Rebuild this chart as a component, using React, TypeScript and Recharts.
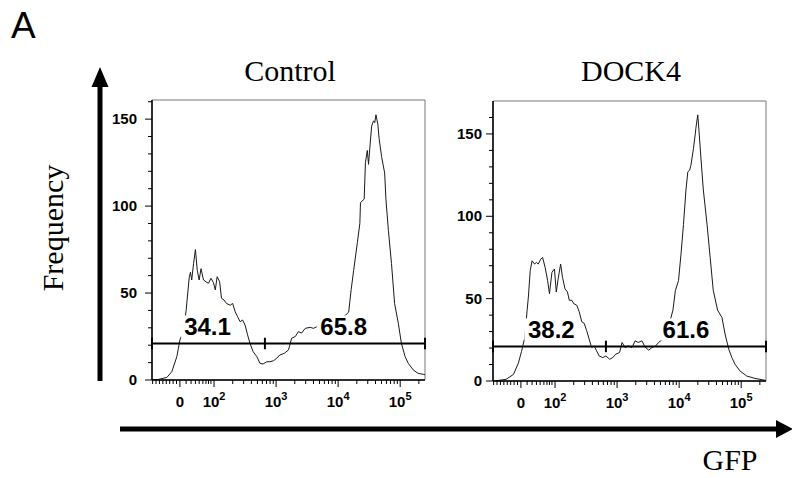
import { LineChart, Line, XAxis, YAxis, ReferenceLine, ReferenceDot, ReferenceArea } from 'recharts';

// ── Data (x in display units: 10^k sits at k, "0" sits at 1.45) ──
const CONTROL_POS = [
  1.0, 1.1, 1.24, 1.32, 1.4, 1.45, 1.51, 1.55, 1.6, 1.62, 1.64, 1.67, 1.7, 1.73, 1.76, 1.79, 1.83, 1.87, 1.91, 1.95,
  1.99, 2.02, 2.05, 2.09, 2.12, 2.16, 2.2, 2.26, 2.3, 2.34, 2.38, 2.42, 2.46, 2.5, 2.54, 2.58, 2.63, 2.69, 2.74, 2.79,
  2.85, 2.9, 2.96, 3.01, 3.06, 3.13, 3.2, 3.25, 3.31, 3.36, 3.41, 3.47, 3.55, 3.6, 3.66, 3.8, 3.95, 4.08, 4.17, 4.21,
  4.25, 4.31, 4.35, 4.36, 4.42, 4.44, 4.47, 4.49, 4.51, 4.54, 4.57, 4.59, 4.61, 4.64, 4.66, 4.7, 4.75, 4.77, 4.81, 4.86,
  4.91, 4.97, 5.02, 5.08, 5.13, 5.21, 5.29, 5.37, 5.4,
];
const CONTROL_COUNT = [
  0, 0.3, 1.5, 4.8, 13.4, 23, 29, 40, 59, 62, 57.5, 67, 75, 63, 57.5, 64, 57.5, 56.5, 55.6, 58.5,
  56, 51.8, 59.4, 56.5, 47, 46, 44, 43, 44, 39.3, 36.4, 33.5, 34.5, 31.6, 26, 21, 16.3, 13.4, 9.6, 9.2,
  10.5, 10.5, 11.1, 12.5, 14.4, 15.3, 17.3, 24, 25, 27.8, 27, 29.7, 30.3, 29.7, 30.7, 31, 33, 36, 39, 52,
  63, 79, 90, 102, 104, 125, 132, 124, 133, 146, 149, 148, 152.5, 147, 139, 128.5, 119, 104, 86, 67,
  44, 32.6, 21, 13.4, 9.6, 5.8, 3.8, 3.3, 3,
];

const DOCK4_POS = [
  1.02, 1.21, 1.33, 1.41, 1.46, 1.51, 1.55, 1.57, 1.6, 1.63, 1.67, 1.7, 1.73, 1.77, 1.8, 1.84, 1.88, 1.91, 1.95, 1.99,
  2.02, 2.05, 2.09, 2.12, 2.16, 2.2, 2.23, 2.27, 2.3, 2.35, 2.39, 2.43, 2.47, 2.51, 2.55, 2.59, 2.63, 2.67, 2.71, 2.77,
  2.82, 2.88, 2.93, 2.98, 3.04, 3.08, 3.13, 3.18, 3.24, 3.29, 3.34, 3.4, 3.45, 3.51, 3.56, 3.62, 3.67, 3.75, 3.83, 3.9,
  3.94, 3.99, 4.03, 4.07, 4.11, 4.14, 4.17, 4.19, 4.23, 4.26, 4.27, 4.3, 4.32, 4.35, 4.39, 4.45, 4.5, 4.55, 4.62, 4.69,
  4.74, 4.8, 4.85, 4.9, 4.98, 5.09, 5.22, 5.39,
];
const DOCK4_COUNT = [
  0, 1, 4, 11, 18, 26, 43, 51, 67, 73, 71, 72, 71, 74, 75, 69, 61, 53, 66, 68,
  54, 62, 71, 63, 56, 54, 49, 49, 47, 46, 42, 36, 35, 30.5, 25.4, 20.3, 21.3, 18.3, 15.2, 14.2,
  15.2, 13.2, 14.2, 16.3, 17.3, 23.4, 20.3, 21.3, 20.3, 24.4, 23.4, 24.4, 20.7, 18.7, 20.3, 21.3, 23.4, 26, 33, 43,
  55, 61, 77, 95, 116, 127, 128, 131, 141, 150, 153.5, 161.6, 152, 136, 116, 95, 75, 55, 43, 38.6,
  28.5, 19.3, 14.2, 10.2, 6.1, 3, 1.6, 0.4,
];

// gates: [left edge, split, right edge], level in counts
const GATE_EDGES = [1, 2.82, 5.4];
const GATE_LEVEL = 21;
const CONTROL_GATE_PCT = ['34.1', '65.8'];
const DOCK4_GATE_PCT = ['38.2', '61.6'];
const CONTROL_PCT_POS = [1.895, 4.09];
const DOCK4_PCT_POS = [1.94, 4.11];

// axes
const X_DOMAIN = [1, 5.4];
const MAJOR_X = [1.45, 2, 3, 4, 5];
const X_BASE = ['0', '10', '10', '10', '10'];
const X_EXP = ['', '2', '3', '4', '5'];
const MINOR_LOW = [1.01, 1.065, 1.12, 1.175, 1.23, 1.285, 1.34, 1.395, 1.55, 1.63, 1.7, 1.76, 1.82, 1.87, 1.91, 1.95];
const MINOR_LOG: number[] = [];
[2, 3, 4].forEach((k) => [2, 3, 4, 5, 6, 7, 8, 9].forEach((m) => MINOR_LOG.push(k + Math.log10(m))));
MINOR_LOG.push(5 + Math.log10(2));
const X_TICKS = [...MINOR_LOW, ...MAJOR_X, ...MINOR_LOG].sort((a, b) => a - b);
const Y_MAJOR = [0, 50, 100, 150];
const Y_TICKS = [0, 10, 20, 30, 40, 50, 60, 70, 80, 90, 100, 110, 120, 130, 140, 150, 160];

const SANS = "'Liberation Sans', Arial, sans-serif";
const SERIF = "'Liberation Serif', 'Times New Roman', serif";

const toRows = (xs: number[], ys: number[]) => xs.map((x, i) => ({ x, y: ys[i] }));

const XTick = (props: any) => {
  const { x, y, payload } = props;
  const idx = MAJOR_X.findIndex((m) => Math.abs(m - payload.value) < 1e-6);
  const major = idx >= 0;
  return (
    <g>
      <line x1={x} x2={x} y1={y} y2={y + (major ? 7 : 4)} stroke="#000" strokeWidth={1} />
      {major && (
        <text x={x} y={y + 27} textAnchor="middle" fontFamily={SANS} fontWeight={700} fontSize={15} fill="#000">
          {X_BASE[idx]}
          {X_EXP[idx] && <tspan dy={-7} fontSize={11}>{X_EXP[idx]}</tspan>}
        </text>
      )}
    </g>
  );
};

const makeYTick = (gap: number) => (props: any) => {
  const { x, y, payload } = props;
  const major = Y_MAJOR.includes(payload.value);
  return (
    <g>
      <line x1={x} x2={x - (major ? 7 : 4)} y1={y} y2={y} stroke="#000" strokeWidth={1} />
      {major && (
        <text x={x - gap} y={y + 5} textAnchor="end" fontFamily={SANS} fontWeight={700} fontSize={15} fill="#000">
          {payload.value}
        </text>
      )}
    </g>
  );
};

const PctLabel = ({ cx, cy, text }: { cx: number; cy: number; text: string }) => (
  <g>
    <rect x={cx - 27} y={cy - 11} width={54} height={22} fill="#fff" />
    <text x={cx} y={cy + 8.5} textAnchor="middle" fontFamily={SANS} fontWeight={700} fontSize={24} fill="#000">
      {text}
    </text>
  </g>
);

interface HistProps {
  rows: { x: number; y: number }[];
  left: number;
  top: number;
  yMax: number;
  labelGap: number;
  pct: string[];
  pctPos: number[];
}

function Histogram({ rows, left, top, yMax, labelGap, pct, pctPos }: HistProps) {
  const tickH = 3.3 * (yMax / 161);
  return (
    <div style={{ position: 'absolute', left, top }}>
      <LineChart width={323} height={320} data={rows} margin={{ top: 10, right: 10, left: 0, bottom: 0 }}>
        <ReferenceArea x1={X_DOMAIN[0]} x2={X_DOMAIN[1]} y1={0} y2={yMax} fill="none" stroke="#777" strokeWidth={1} />
        <XAxis
          dataKey="x" type="number" domain={X_DOMAIN} allowDataOverflow ticks={X_TICKS} interval={0}
          height={30} tickSize={0} tickMargin={0} tickLine={false}
          axisLine={{ stroke: '#000', strokeWidth: 1.5 }} tick={XTick}
        />
        <YAxis
          type="number" domain={[0, yMax]} allowDataOverflow ticks={Y_TICKS} interval={0}
          width={40} tickSize={0} tickMargin={0} tickLine={false}
          axisLine={{ stroke: '#000', strokeWidth: 1.5 }} tick={makeYTick(labelGap)}
        />
        <Line type="linear" dataKey="y" stroke="#1a1a1a" strokeWidth={1} dot={false} isAnimationActive={false} />
        <ReferenceLine
          segment={[{ x: GATE_EDGES[0], y: GATE_LEVEL }, { x: GATE_EDGES[2], y: GATE_LEVEL }]}
          stroke="#000" strokeWidth={2}
        />
        {GATE_EDGES.map((g) => (
          <ReferenceLine
            key={g}
            segment={[{ x: g, y: GATE_LEVEL - tickH }, { x: g, y: GATE_LEVEL + tickH }]}
            stroke="#000" strokeWidth={2}
          />
        ))}
        {pct.map((t, i) => (
          <ReferenceDot
            key={t} x={pctPos[i]} y={GATE_LEVEL + 9.8 * (yMax / 161)} r={0} ifOverflow="visible"
            shape={(p: any) => <PctLabel cx={p.cx} cy={p.cy} text={t} />}
          />
        ))}
      </LineChart>
    </div>
  );
}

export default function App() {
  return (
    <div style={{ position: 'absolute', left: 0, top: 0, width: 792, height: 478, background: '#fff', overflow: 'hidden' }}>
      <svg width={792} height={478} style={{ position: 'absolute', left: 0, top: 0 }}>
        <text x={11} y={38} fontFamily={SANS} fontSize={37} fill="#000">A</text>
        <text x={290} y={81} textAnchor="middle" fontFamily={SERIF} fontSize={30} fill="#000">Control</text>
        <text x={631} y={81} textAnchor="middle" fontFamily={SERIF} fontSize={30} fill="#000">DOCK4</text>
        <text transform="translate(63,228) rotate(-90)" textAnchor="middle" fontFamily={SERIF} fontSize={30} fill="#000">
          Frequency
        </text>
        <text x={730} y={470} textAnchor="middle" fontFamily={SERIF} fontSize={30} fill="#000">GFP</text>
        <line x1={100} y1={381} x2={100} y2={84} stroke="#000" strokeWidth={5} />
        <polygon points="100,67 91.5,87 108.5,87" fill="#000" />
        <line x1={120} y1={429} x2={778} y2={429} stroke="#000" strokeWidth={5} />
        <polygon points="793,429 776,420 776,438" fill="#000" />
      </svg>
      <Histogram rows={toRows(CONTROL_POS, CONTROL_COUNT)} left={112} top={90} yMax={161} labelGap={15}
        pct={CONTROL_GATE_PCT} pctPos={CONTROL_PCT_POS} />
      <Histogram rows={toRows(DOCK4_POS, DOCK4_COUNT)} left={453} top={91} yMax={170} labelGap={11}
        pct={DOCK4_GATE_PCT} pctPos={DOCK4_PCT_POS} />
    </div>
  );
}
